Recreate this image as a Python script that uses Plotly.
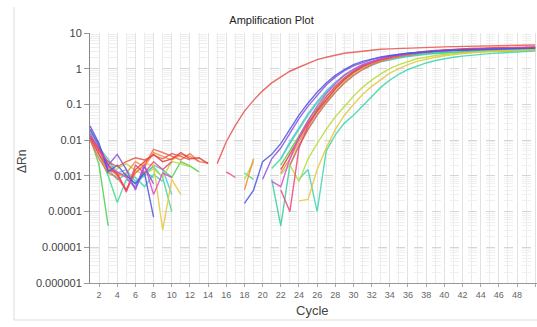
import plotly.graph_objects as go

N = None
cycles = list(range(1, 51))

red_early = [0.012,0.005,0.0025,0.0018,0.0025,0.0032,0.0028,0.0038,0.003,0.0042,0.0035,0.0028,N,N,
             0.0022,0.009,0.026,0.065,0.13,0.24,0.4,0.6,0.85,1.1,1.4,1.8,2.1,2.4,2.7,2.9,
             3.1,3.3,3.5,3.6,3.7,3.8,3.9,4.0,4.05,4.1,4.15,4.2,4.25,4.3,4.35,4.4,4.45,4.5,4.55,4.6]
blue1 = [0.025,0.008,0.0013,0.002,0.001,0.0006,0.0012,0.00007] + [N]*9 + \
        [0.00017,0.0004,0.0025,0.004,0.008,0.02,0.05,0.11,0.22,0.4,0.65,0.95,1.3] + \
        [1.6,1.9,2.15,2.35,2.55,2.7,2.85,3.0,3.1,3.2,3.3,3.35,3.4,3.45,3.5,3.55,3.6,3.65,3.7,3.75]
purple = [0.02,0.007,0.002,0.004,0.0015,0.0004,0.0018,0.0006] + [N]*11 + \
         [0.0008,0.003,0.006,0.015,0.04,0.09,0.18,0.35,0.58,0.88,1.2] + \
         [1.5,1.8,2.05,2.3,2.5,2.7,2.85,3.0,3.1,3.2,3.3,3.4,3.45,3.5,3.55,3.6,3.65,3.7,3.75,3.8]
magenta = [0.015,0.005,0.0018,0.0013,0.0009,0.00045,0.0021,0.0003,0.0012,0.0009] + [N]*10 + \
          [0.0007,0.0005,0.003,0.012,0.035,0.09,0.2,0.38,0.65,0.95] + \
          [1.3,1.6,1.9,2.2,2.4,2.6,2.8,2.95,3.1,3.2,3.3,3.4,3.5,3.55,3.6,3.65,3.7,3.75,3.8,3.85]
pink = [0.012,0.004,0.0015,0.0012,0.00035,0.002,0.0012,0.0025,0.0015,0.0025] + [N]*5 + \
       [0.0013,0.0009] + [N]*4 + \
       [0.0004,0.0001,0.006,0.025,0.07,0.16,0.32,0.55,0.85] + \
       [1.2,1.5,1.85,2.15,2.4,2.6,2.8,3.0,3.15,3.3,3.4,3.5,3.6,3.65,3.7,3.75,3.8,3.85,3.9,3.95]
red3 = [0.013,0.006,0.002,0.0011,0.0004,0.0015,0.0025,0.004,0.0025,0.003,0.0045,0.003,0.0032,0.0022] + [N]*7 + \
       [0.0015,0.004,0.011,0.03,0.065,0.14,0.28,0.5,0.8] + \
       [1.15,1.5,1.8,2.1,2.4,2.65,2.9,3.1,3.25,3.4,3.5,3.6,3.7,3.75,3.8,3.85,3.9,3.95,4.0,4.05]
orange = [0.011,0.004,0.0018,0.001,0.0012,0.0025,0.0018,0.0045,0.0035,0.0028,0.004,0.0035,0.0025] + [N]*4 + \
         [0.0004,0.003,N,N] + \
         [0.0012,0.003,0.009,0.025,0.06,0.13,0.26,0.46,0.75] + \
         [1.05,1.4,1.7,2.0,2.3,2.55,2.8,3.0,3.15,3.3,3.4,3.5,3.55,3.6,3.65,3.7,3.75,3.8,3.85,3.9]
gold = [0.012,0.005,0.002,0.0012,0.0009,0.0012,0.0022,0.002,0.00003,0.0008,0.0003] + [N]*12 + \
       [0.0002,0.00022,0.0015,0.006,0.02,0.05,0.1] + \
       [0.19,0.32,0.5,0.75,1.0,1.3,1.6,1.85,2.1,2.3,2.5,2.65,2.8,2.9,3.0,3.1,3.2,3.3,3.35,3.4]
yellowgreen = [0.014,0.004,0.0012,0.0016,0.0022,0.0014,0.0011,0.0016,0.0009,0.0025,0.0022,0.0018] + [N]*5 + \
              [0.0008,0.0025,N,N] + \
              [0.0011,0.002,0.0007,0.003,0.008,0.02,0.045,0.09,0.17] + \
              [0.3,0.48,0.72,1.0,1.3,1.6,1.9,2.1,2.35,2.5,2.65,2.8,2.9,3.0,3.1,3.2,3.25,3.3,3.35,3.4]
green = [0.012,0.002,0.00004] + [N]*5 + [0.0015,0.0009,0.0025,0.0019,0.0013] + [N]*8 + \
        [0.002,0.005,0.013,0.035,0.08,0.17,0.32,0.55,0.85] + \
        [1.15,1.45,1.75,2.0,2.2,2.4,2.55,2.7,2.8,2.9,2.95,3.0,3.05,3.1,3.15,3.2,3.2,3.25,3.25,3.3]
springgreen = [0.015,0.004,0.001,0.00018,0.0008,0.0005,0.0012,0.0018,0.0009,0.0001] + [N]*7 + \
              [0.0012,0.0008,N] + \
              [0.0016,0.003,0.008,0.02,0.05,0.11,0.22,0.4,0.65,0.95] + \
              [1.25,1.55,1.8,2.05,2.25,2.45,2.6,2.75,2.9,3.0,3.1,3.15,3.2,3.25,3.3,3.3,3.35,3.35,3.4,3.4]
teal = [0.02,0.006,0.0015,0.0008,0.0011,0.0006,0.0013,0.0009] + [N]*12 + \
       [0.0008,0.00004,0.002,0.007,0.02,0.05,0.11,0.22,0.4,0.65] + \
       [0.95,1.25,1.55,1.8,2.0,2.2,2.4,2.55,2.65,2.75,2.85,2.95,3.0,3.05,3.1,3.15,3.2,3.2,3.25,3.3]
teal2 = [0.016,0.005,0.0025,0.0012,0.001,0.0009,0.0005,0.0011,0.0007] + [N]*14 + \
        [0.0008,0.0015,0.0001,0.005,0.014,0.03,0.05] + \
        [0.09,0.17,0.3,0.48,0.7,0.95,1.2,1.45,1.7,1.9,2.1,2.25,2.4,2.55,2.65,2.75,2.85,2.95,3.0,3.1]
cyan = [0.018,0.006,0.003,0.0012,0.0015,0.0007,0.001,0.002,0.0015,0.0003] + [N]*11 + \
       [0.003,0.009,0.022,0.055,0.12,0.24,0.42,0.68,0.98] + \
       [1.3,1.6,1.85,2.1,2.3,2.5,2.65,2.8,2.95,3.05,3.15,3.2,3.25,3.3,3.35,3.4,3.45,3.5,3.5,3.55]
salmon = [0.01,0.003,0.0012,0.0009,0.0004,0.0012,0.002,0.0055,0.0045,0.0035,0.0028,0.0042,0.0025,0.0023] + [N]*8 + \
         [0.002,0.007,0.02,0.05,0.11,0.22,0.4,0.65] + \
         [0.95,1.3,1.6,1.9,2.2,2.45,2.7,2.9,3.1,3.25,3.4,3.5,3.6,3.65,3.7,3.75,3.8,3.85,3.9,3.95]

series = [
    ("green", green, "#4ccf4c"),
    ("springgreen", springgreen, "#3fdc8c"),
    ("teal2", teal2, "#3ad6b0"),
    ("teal", teal, "#35cfa0"),
    ("cyan", cyan, "#52c4e6"),
    ("yellowgreen", yellowgreen, "#b6dc3c"),
    ("gold", gold, "#e6c83a"),
    ("orange", orange, "#f08c34"),
    ("salmon", salmon, "#f26a52"),
    ("red3", red3, "#e23a3a"),
    ("pink", pink, "#f0447a"),
    ("magenta", magenta, "#d84ad4"),
    ("purple", purple, "#8a4ee2"),
    ("blue1", blue1, "#4a56e2"),
    ("red_early", red_early, "#e85450"),
]

fig = go.Figure()
for name, vals, col in series:
    fig.add_trace(go.Scatter(x=cycles, y=vals, mode="lines", name=name,
                             line=dict(color=col, width=1.4), opacity=0.85,
                             connectgaps=False, showlegend=False))

y_tickvals = [1e-6, 1e-5, 1e-4, 1e-3, 1e-2, 1e-1, 1, 10]
y_ticktext = ["0.000001", "0.00001", "0.0001", "0.001", "0.01", "0.1", "1", "10"]
x_tickvals = list(range(2, 51, 2))
y_minor = [m * d for d in [1e-6, 1e-5, 1e-4, 1e-3, 1e-2, 1e-1, 1] for m in range(2, 10)]

fig.update_layout(
    width=537, height=327,
    margin=dict(l=90, r=0, t=33, b=44),
    paper_bgcolor="white", plot_bgcolor="white",
    font=dict(family="Liberation Sans, Arial, sans-serif", color="#444"),
    title=dict(text="Amplification Plot", xref="container", x=271.5/537, xanchor="center",
               yref="container", y=1-20/327, yanchor="middle",
               font=dict(size=11, color="#222")),
    xaxis=dict(range=[1.0, 50.2], tickvals=x_tickvals, ticktext=[str(v) for v in x_tickvals],
               tickfont=dict(size=9, color="#666"), ticks="outside", ticklen=3, tickcolor="#aaa",
               showline=True, linecolor="#999", linewidth=1, zeroline=False,
               showgrid=True, gridcolor="#e2e2e2", gridwidth=1,
               minor=dict(dtick=1, tick0=1, showgrid=True, gridcolor="#ebebeb", ticks="")),
    yaxis=dict(type="log", range=[-6, 1], tickvals=y_tickvals, ticktext=y_ticktext,
               tickfont=dict(size=11, color="#444"), ticks="outside", ticklen=5, tickcolor="#999",
               showline=True, linecolor="#888", linewidth=1, zeroline=False,
               showgrid=True, gridcolor="#d6d6d6", gridwidth=1, griddash="dash",
               minor=dict(tickvals=y_minor, showgrid=True, gridcolor="#efefef", ticks="")),
    shapes=[
        dict(type="line", xref="paper", yref="paper", x0=(14-90)/447, x1=(14-90)/447,
             y0=(283-320)/250, y1=(283-7)/250, line=dict(color="#dddddd", width=1)),
        dict(type="line", xref="paper", yref="paper", x0=(14-90)/447, x1=1.0,
             y0=(283-320)/250, y1=(283-320)/250, line=dict(color="#dddddd", width=1)),
    ],
    annotations=[
        dict(text="Cycle", xref="paper", yref="paper", x=(312-90)/447, y=(283-310)/250,
             showarrow=False, xanchor="center", yanchor="middle", font=dict(size=13, color="#444")),
        dict(text="ΔRn", xref="paper", yref="paper", x=(22-90)/447, y=(283-162)/250,
             showarrow=False, xanchor="center", yanchor="middle", textangle=-90,
             font=dict(size=12, color="#444")),
    ],
)

fig.write_html("out.html")
